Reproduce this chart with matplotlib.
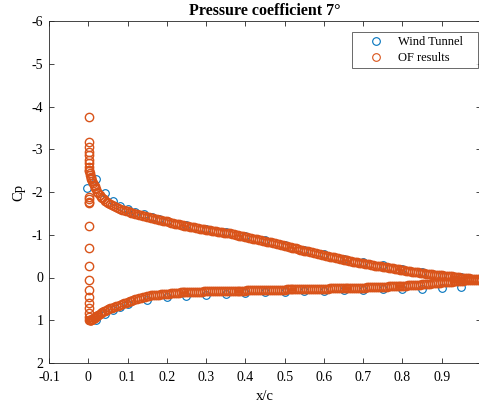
"""Cp distribution at 7 deg: wind tunnel vs OpenFOAM."""
import matplotlib.pyplot as plt

# palette MATLAB
COL_WT = "#0072BD"
COL_OF = "#D95319"
COL_AX = "#262626"

# ---- Wind tunnel (taps) ----
wt_x = [-0.003, 0.020, 0.042, 0.062, 0.081, 0.100, 0.120, 0.141, 0.162, 0.180,
        0.20, 0.25, 0.30, 0.35, 0.40, 0.45, 0.50, 0.55, 0.60, 0.65,
        0.70, 0.75, 0.80, 0.85, 0.90, 0.95,
        0.020, 0.042, 0.062, 0.081, 0.100, 0.150, 0.20, 0.25, 0.30, 0.35,
        0.40, 0.45, 0.50, 0.55, 0.60, 0.65, 0.70, 0.75, 0.80, 0.85,
        0.90, 0.95]
wt_cp = [-2.09, -2.30, -1.97, -1.80, -1.67, -1.60, -1.54, -1.49, -1.42, -1.37,
         -1.33, -1.22, -1.13, -1.06, -0.97, -0.87, -0.76, -0.65, -0.54, -0.44,
         -0.36, -0.29, -0.20, -0.12, -0.06, -0.01,
         1.00, 0.85, 0.75, 0.68, 0.63, 0.52, 0.46, 0.43, 0.41, 0.38,
         0.37, 0.35, 0.34, 0.32, 0.31, 0.30, 0.29, 0.28, 0.27, 0.26,
         0.25, 0.22]

# ---- OF results : colonne au bord d'attaque ----
of_le_x = [0.002, 0.002, 0.002, 0.002, 0.002, 0.002, 0.002, 0.002, 0.002,
           0.001, 0.001, 0.001, 0.001, 0.001, 0.001, 0.001, 0.001, 0.001,
           0.001, 0.002, 0.002, 0.002, 0.002]
of_le_cp = [-3.76, -3.18, -3.06, -2.94, -2.87, -2.75, -2.67, -2.59, -2.51,
            -1.89, -1.83, -1.77, -1.74, -1.20, -0.70, -0.28, 0.06, 0.29,
            0.45, 0.60, 0.72, 0.84, 0.93]

# ---- OF results : abscisses des deux faces ----
of_surf_x = [0.003, 0.004, 0.005, 0.006, 0.007, 0.008, 0.010, 0.012, 0.014, 0.016,
             0.018, 0.020, 0.023, 0.026, 0.029, 0.032, 0.035, 0.039, 0.043, 0.047,
             0.051, 0.055, 0.060, 0.065, 0.070, 0.075, 0.080, 0.085, 0.090, 0.095,
             0.100, 0.105, 0.110, 0.115, 0.120, 0.125, 0.130, 0.135, 0.140, 0.145,
             0.150, 0.155, 0.160, 0.165, 0.170, 0.175, 0.180, 0.185, 0.190, 0.195,
             0.200, 0.205, 0.210, 0.215, 0.220, 0.225, 0.230, 0.235, 0.240, 0.245,
             0.250, 0.255, 0.260, 0.265, 0.270, 0.275, 0.280, 0.285, 0.290, 0.295,
             0.300, 0.305, 0.310, 0.315, 0.320, 0.325, 0.330, 0.335, 0.340, 0.345,
             0.350, 0.355, 0.360, 0.365, 0.370, 0.375, 0.380, 0.385, 0.390, 0.395,
             0.400, 0.405, 0.410, 0.415, 0.420, 0.425, 0.430, 0.435, 0.440, 0.445,
             0.450, 0.455, 0.460, 0.465, 0.470, 0.475, 0.480, 0.485, 0.490, 0.495,
             0.500, 0.505, 0.510, 0.515, 0.520, 0.525, 0.530, 0.535, 0.540, 0.545,
             0.550, 0.555, 0.560, 0.565, 0.570, 0.575, 0.580, 0.585, 0.590, 0.595,
             0.600, 0.605, 0.610, 0.615, 0.620, 0.625, 0.630, 0.635, 0.640, 0.645,
             0.650, 0.655, 0.660, 0.665, 0.670, 0.675, 0.680, 0.685, 0.690, 0.695,
             0.700, 0.705, 0.710, 0.715, 0.720, 0.725, 0.730, 0.735, 0.740, 0.745,
             0.750, 0.755, 0.760, 0.765, 0.770, 0.775, 0.780, 0.785, 0.790, 0.795,
             0.800, 0.805, 0.810, 0.815, 0.820, 0.825, 0.830, 0.835, 0.840, 0.845,
             0.850, 0.855, 0.860, 0.865, 0.870, 0.875, 0.880, 0.885, 0.890, 0.895,
             0.900, 0.905, 0.910, 0.915, 0.920, 0.925, 0.930, 0.935, 0.940, 0.945,
             0.950, 0.955, 0.960, 0.965, 0.970, 0.975, 0.980, 0.985, 0.990, 0.995,
             1.000]

# extrados
of_up_cp = [-2.50, -2.45, -2.40, -2.36, -2.33, -2.30, -2.25, -2.21, -2.17, -2.13,
            -2.10, -2.06, -2.01, -1.97, -1.93, -1.89, -1.86, -1.83, -1.80, -1.77,
            -1.75, -1.73, -1.70, -1.68, -1.65, -1.63, -1.61, -1.59, -1.57, -1.56,
            -1.545, -1.53, -1.52, -1.505, -1.49, -1.48, -1.47, -1.455, -1.44, -1.43,
            -1.42, -1.41, -1.40, -1.385, -1.37, -1.36, -1.35, -1.34, -1.33, -1.32,
            -1.31, -1.295, -1.28, -1.27, -1.26, -1.25, -1.24, -1.23, -1.22, -1.21,
            -1.20, -1.195, -1.19, -1.18, -1.17, -1.16, -1.15, -1.14, -1.13, -1.125,
            -1.12, -1.11, -1.10, -1.095, -1.09, -1.08, -1.07, -1.065, -1.06, -1.05,
            -1.04, -1.035, -1.03, -1.02, -1.01, -1.00, -0.99, -0.98, -0.97, -0.96,
            -0.95, -0.94, -0.93, -0.92, -0.91, -0.90, -0.89, -0.88, -0.87, -0.86,
            -0.85, -0.84, -0.83, -0.82, -0.81, -0.80, -0.79, -0.775, -0.76, -0.75,
            -0.74, -0.73, -0.72, -0.71, -0.70, -0.69, -0.68, -0.665, -0.65, -0.64,
            -0.63, -0.62, -0.61, -0.60, -0.59, -0.58, -0.57, -0.56, -0.55, -0.535,
            -0.52, -0.51, -0.50, -0.49, -0.48, -0.47, -0.46, -0.45, -0.44, -0.43,
            -0.42, -0.41, -0.40, -0.39, -0.38, -0.37, -0.36, -0.355, -0.35, -0.34,
            -0.33, -0.32, -0.31, -0.305, -0.30, -0.29, -0.28, -0.275, -0.27, -0.26,
            -0.25, -0.245, -0.24, -0.23, -0.22, -0.215, -0.21, -0.20, -0.19, -0.185,
            -0.18, -0.17, -0.16, -0.155, -0.15, -0.14, -0.13, -0.125, -0.12, -0.115,
            -0.11, -0.10, -0.09, -0.085, -0.08, -0.075, -0.07, -0.065, -0.06, -0.055,
            -0.05, -0.045, -0.04, -0.035, -0.03, -0.025, -0.02, -0.015, -0.01, -0.005,
            0.00, 0.005, 0.01, 0.015, 0.02, 0.025, 0.03, 0.035, 0.04, 0.045,
            0.05]

# intrados
of_lo_cp = [0.99, 1.00, 1.00, 1.00, 1.00, 0.99, 0.98, 0.97, 0.955, 0.94,
            0.925, 0.91, 0.89, 0.87, 0.85, 0.83, 0.815, 0.795, 0.775, 0.755,
            0.74, 0.725, 0.705, 0.685, 0.67, 0.655, 0.64, 0.62, 0.605, 0.585,
            0.565, 0.55, 0.54, 0.525, 0.51, 0.50, 0.48, 0.47, 0.46, 0.45,
            0.44, 0.43, 0.42, 0.415, 0.41, 0.405, 0.40, 0.395, 0.39, 0.385,
            0.38, 0.375, 0.37, 0.365, 0.36, 0.36, 0.355, 0.35, 0.35, 0.345,
            0.345, 0.34, 0.34, 0.34, 0.335, 0.335, 0.33, 0.33, 0.33, 0.325,
            0.325, 0.325, 0.325, 0.32, 0.32, 0.32, 0.32, 0.32, 0.315, 0.315,
            0.315, 0.315, 0.31, 0.31, 0.31, 0.31, 0.31, 0.305, 0.305, 0.305,
            0.305, 0.30, 0.30, 0.30, 0.30, 0.30, 0.295, 0.295, 0.295, 0.295,
            0.295, 0.29, 0.29, 0.29, 0.29, 0.29, 0.285, 0.285, 0.285, 0.285,
            0.285, 0.28, 0.28, 0.28, 0.28, 0.28, 0.275, 0.275, 0.275, 0.275,
            0.27, 0.27, 0.27, 0.27, 0.27, 0.265, 0.265, 0.265, 0.265, 0.26,
            0.26, 0.26, 0.26, 0.255, 0.255, 0.255, 0.255, 0.25, 0.25, 0.25,
            0.25, 0.245, 0.245, 0.245, 0.245, 0.24, 0.24, 0.24, 0.24, 0.235,
            0.235, 0.235, 0.23, 0.23, 0.23, 0.225, 0.225, 0.225, 0.22, 0.22,
            0.22, 0.215, 0.215, 0.21, 0.21, 0.205, 0.205, 0.20, 0.20, 0.195,
            0.195, 0.19, 0.19, 0.185, 0.185, 0.18, 0.175, 0.175, 0.17, 0.165,
            0.16, 0.16, 0.155, 0.15, 0.145, 0.14, 0.135, 0.13, 0.125, 0.12,
            0.115, 0.11, 0.105, 0.10, 0.10, 0.095, 0.09, 0.09, 0.085, 0.08,
            0.08, 0.075, 0.07, 0.07, 0.065, 0.06, 0.06, 0.055, 0.055, 0.05,
            0.05]

x_ticks = [-0.1, 0, 0.1, 0.2, 0.3, 0.4, 0.5, 0.6, 0.7, 0.8, 0.9]
x_ticklabels = ["-0.1", "0", "0.1", "0.2", "0.3", "0.4", "0.5", "0.6", "0.7", "0.8", "0.9"]
y_ticks = [-6, -5, -4, -3, -2, -1, 0, 1, 2]


def main():
    plt.rcParams["font.family"] = ["Liberation Serif", "DejaVu Serif"]
    plt.rcParams["axes.unicode_minus"] = False
    fig = plt.figure(figsize=(4.79, 4.07), dpi=100, facecolor="white")
    ax = fig.add_axes([49 / 479, 44 / 407, 432 / 479, 342 / 407])

    of_x = of_surf_x + of_le_x + of_surf_x
    of_cp = of_up_cp + of_le_cp + of_lo_cp

    ax.plot(wt_x, wt_cp, "o", mfc="none", mec=COL_WT, ms=5.5, mew=0.8,
            label="Wind Tunnel", clip_on=False)
    ax.plot(of_x, of_cp, "o", mfc="none", mec=COL_OF, ms=6.0, mew=1.0,
            label="OF results", clip_on=False)

    ax.set_xlim(-0.1, 1.0)
    ax.set_ylim(2, -6)
    ax.set_xticks(x_ticks)
    ax.set_xticklabels(x_ticklabels)
    ax.set_yticks(y_ticks)
    ax.tick_params(direction="in", top=True, right=True, length=3.5,
                   width=0.6, color=COL_AX, labelsize=10, labelcolor="black")
    ax.tick_params(axis="x", pad=6)
    ax.tick_params(axis="y", pad=4)
    for sp in ax.spines.values():
        sp.set_color(COL_AX)
        sp.set_linewidth(0.6)

    ax.set_title("Pressure coefficient 7°", fontsize=11.5, fontweight="bold", pad=4)
    ax.set_xlabel("x/c", fontsize=10.5, labelpad=4)
    ax.set_ylabel("Cp", fontsize=10.5, labelpad=5)

    # legende : boite 352..478 px, haut a 32 px
    leg = ax.legend(loc="upper left", bbox_to_anchor=(303 / 432, 0.868, 126 / 432, 0.1),
                    mode="expand", borderaxespad=0, fontsize=9,
                    frameon=True, fancybox=False, edgecolor=COL_AX,
                    borderpad=0.35, handletextpad=0.25, handlelength=3.1,
                    labelspacing=0.3)
    leg.get_frame().set_linewidth(0.6)
    for h in leg.legend_handles:
        h.set_markersize(5.5)
        h.set_markeredgewidth(0.8)

    fig.savefig("out.png", dpi=100, facecolor="white")
    plt.close(fig)


if __name__ == "__main__":
    main()
